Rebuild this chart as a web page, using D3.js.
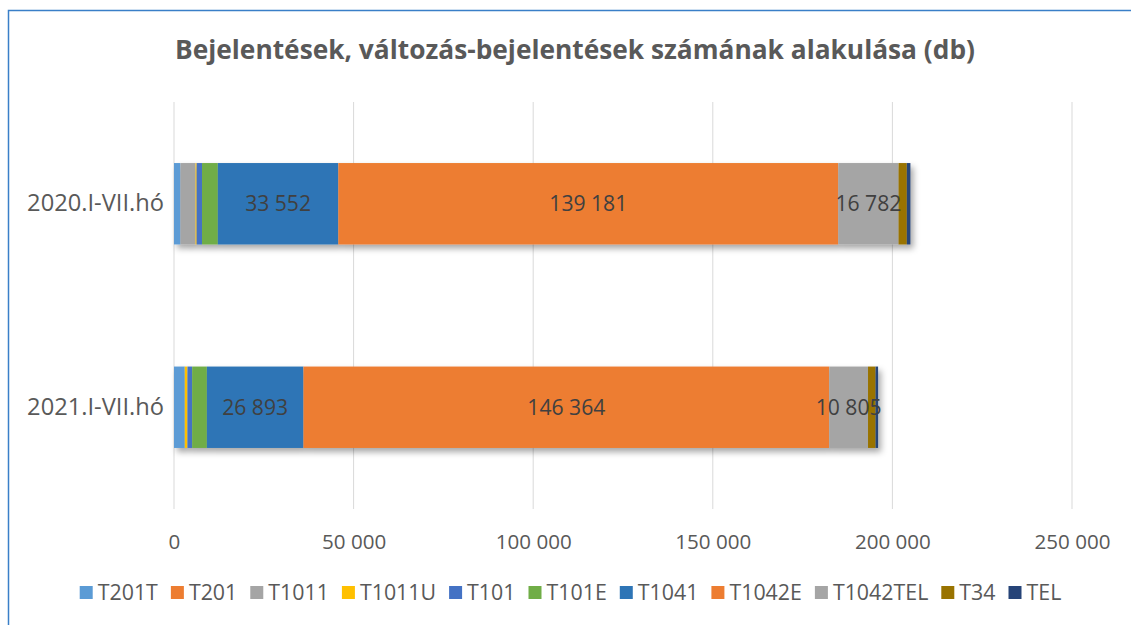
<!DOCTYPE html>
<html>
<head>
<meta charset="utf-8">
<script src="https://cdn.jsdelivr.net/npm/d3@7"></script>
<style>
  html, body { margin: 0; padding: 0; background: #fff; }
  svg { display: block; font-family: "Open Sans", sans-serif; }
</style>
</head>
<body>
<svg id="chart" width="1131" height="625"></svg>
<script>
const categories = ["2020.I-VII.hó", "2021.I-VII.hó"];
const seriesNames = ["T201T", "T201", "T1011", "T1011U", "T101", "T101E", "T1041", "T1042E", "T1042TEL", "T34", "TEL"];
const seriesColors = ["#5b9bd5", "#ed7d31", "#a5a5a5", "#ffc000", "#4472c4", "#70ad47", "#2e75b6", "#ed7d31", "#a5a5a5", "#997300", "#264478"];
const values2020 = [1800, 0, 4200, 300, 1500, 4400, 33552, 139181, 16782, 2300, 1000];
const values2021 = [3000, 0, 0, 750, 1300, 4100, 26893, 146364, 10805, 2100, 700];
const xTicks = [0, 50000, 100000, 150000, 200000, 250000];
const labelledSeries = ["T1041", "T1042E", "T1042TEL"];

const svg = d3.select("#chart");
const width = 1131;
const height = 625;

const locale = d3.formatLocale({ decimal: ",", thousands: " ", grouping: [3], currency: ["", ""] });
const fmt = locale.format(",d");

// shrink/grow a text's font size so it takes the given width
function fitText(sel, targetWidth, baseSize) {
  sel.attr("font-size", baseSize);
  const w = sel.node().getComputedTextLength();
  const size = baseSize * targetWidth / w;
  sel.attr("font-size", size);
  return size;
}

// frame
svg.append("rect")
  .attr("x", 8.5).attr("y", 10.5)
  .attr("width", width + 20).attr("height", height + 20)
  .attr("fill", "#fff")
  .attr("stroke", "#3a7fc8").attr("stroke-width", 1.5);

const defs = svg.append("defs");
const shadow = defs.append("filter").attr("id", "shadow")
  .attr("x", "-5%").attr("y", "-20%").attr("width", "115%").attr("height", "150%");
shadow.append("feDropShadow")
  .attr("dx", 3).attr("dy", 4).attr("stdDeviation", 3)
  .attr("flood-color", "#000").attr("flood-opacity", 0.35);

const title = svg.append("text")
  .attr("x", 575).attr("y", 59)
  .attr("text-anchor", "middle")
  .attr("font-weight", "bold")
  .attr("fill", "#595959")
  .text("Bejelentések, változás-bejelentések számának alakulása (db)");
fitText(title, 800, 22);

const margin = { left: 174, right: 1131 - 1072, top: 102, bottom: 625 - 509 };

const x = d3.scaleLinear()
  .domain([0, 250000])
  .range([margin.left, width - margin.right]);

const y = d3.scaleBand()
  .domain(categories)
  .range([margin.top, height - margin.bottom])
  .paddingInner(0.6)
  .paddingOuter(0.3);

// gridlines
svg.append("g")
  .selectAll("line")
  .data(xTicks)
  .join("line")
  .attr("x1", d => x(d)).attr("x2", d => x(d))
  .attr("y1", margin.top).attr("y2", height - margin.bottom)
  .attr("stroke", "#d9d9d9").attr("stroke-width", 1);

// x axis
const xAxis = svg.append("g")
  .attr("transform", `translate(0,${height - margin.bottom})`)
  .call(d3.axisBottom(x).tickValues(xTicks).tickFormat(fmt).tickSize(0).tickPadding(25));
xAxis.select(".domain").remove();
const tickText = xAxis.selectAll("text")
  .attr("font-family", "'Open Sans', sans-serif")
  .attr("fill", "#595959");
const tickSize = fitText(d3.select(tickText.nodes()[2]), 76, 18);
tickText.attr("font-size", tickSize);

// y axis
const yAxis = svg.append("g")
  .attr("transform", `translate(${margin.left},0)`)
  .call(d3.axisLeft(y).tickSize(0).tickPadding(10));
yAxis.select(".domain").remove();
const catText = yAxis.selectAll("text")
  .attr("font-family", "'Open Sans', sans-serif")
  .attr("fill", "#595959");
const catSize = fitText(d3.select(catText.nodes()[0]), 137, 19);
catText.attr("font-size", catSize);

// stacked data
const rows = categories.map((cat, i) => {
  const vals = i === 0 ? values2020 : values2021;
  const row = { category: cat };
  seriesNames.forEach((s, j) => { row[s] = vals[j]; });
  return row;
});
const stack = d3.stack().keys(seriesNames)(rows);

const barGroups = svg.append("g")
  .selectAll("g")
  .data(categories)
  .join("g")
  .attr("filter", "url(#shadow)");

barGroups.each(function (cat, ci) {
  const g = d3.select(this);
  stack.forEach((layer, li) => {
    const d = layer[ci];
    if (d[1] - d[0] <= 0) return;
    g.append("rect")
      .attr("x", x(d[0]))
      .attr("y", y(cat))
      .attr("width", x(d[1]) - x(d[0]))
      .attr("height", y.bandwidth())
      .attr("fill", seriesColors[li]);
  });
});

// data labels
const labels = svg.append("g");
stack.forEach(layer => {
  if (!labelledSeries.includes(layer.key)) return;
  layer.forEach((d, ci) => {
    labels.append("text")
      .attr("x", (x(d[0]) + x(d[1])) / 2)
      .attr("y", y(categories[ci]) + y.bandwidth() / 2)
      .attr("dy", "0.35em")
      .attr("text-anchor", "middle")
      .attr("fill", "#404040")
      .text(fmt(d[1] - d[0]));
  });
});
const labelSize = fitText(d3.select(labels.selectAll("text").nodes()[2]), 78, 19);
labels.selectAll("text").attr("font-size", labelSize);

// legend
const legend = svg.append("g");
const items = legend.selectAll("g")
  .data(seriesNames)
  .join("g");
items.append("rect")
  .attr("width", 13).attr("height", 13)
  .attr("y", -7)
  .attr("fill", (d, i) => seriesColors[i]);
const legText = items.append("text")
  .attr("x", 18)
  .attr("dy", "0.35em")
  .attr("font-size", 19)
  .attr("fill", "#595959")
  .text(d => d);

// total text width the legend should use: 982 minus markers and gaps
const textTarget = 982 - seriesNames.length * 18 - (seriesNames.length - 1) * 13;
const rawText = d3.sum(legText.nodes(), n => n.getComputedTextLength());
legText.attr("font-size", 19 * textTarget / rawText);

let cursor = 0;
items.each(function () {
  const g = d3.select(this);
  const w = 18 + g.select("text").node().getComputedTextLength();
  g.attr("transform", `translate(${cursor},0)`);
  cursor += w + 13;
});
const totalWidth = cursor - 13;
legend.attr("transform", `translate(${570.5 - totalWidth / 2},593)`);
</script>
</body>
</html>
